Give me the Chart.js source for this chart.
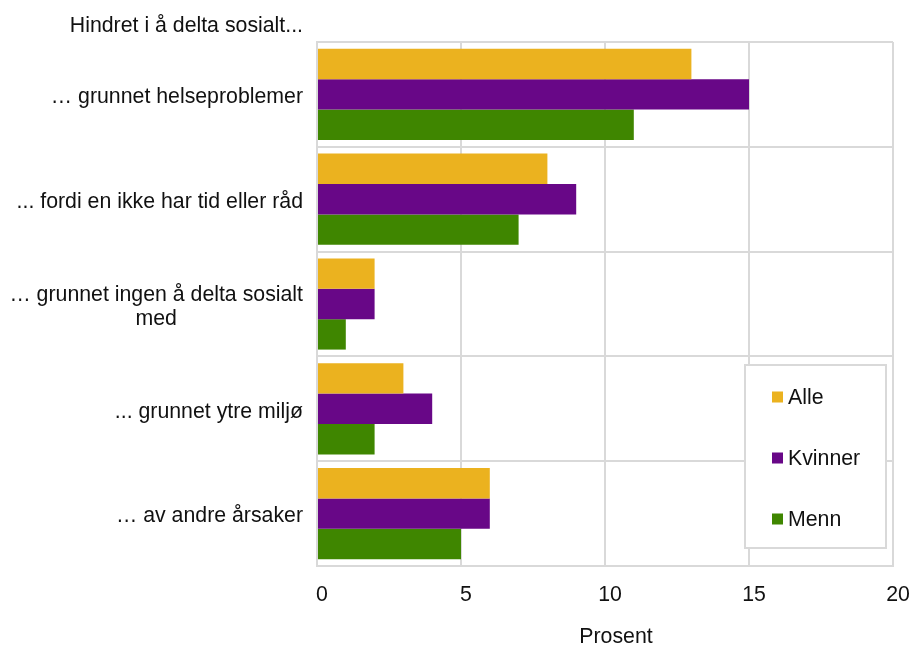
<!DOCTYPE html>
<html lang="no">
<head>
<meta charset="utf-8">
<title>Hindret i å delta sosialt</title>
<script src="https://cdn.jsdelivr.net/npm/chart.js@4.4.1/dist/chart.umd.min.js"></script>
<style>
  html, body { margin: 0; padding: 0; background: #fff; }
  #wrap { width: 914px; height: 647px; position: relative; }
</style>
</head>
<body>
<div id="wrap"><canvas id="hindretChart"></canvas></div>
<script>
const chartTitle = 'Hindret i å delta sosialt...';
const axisTitle = 'Prosent';
const categories = [
    ['… grunnet helseproblemer'],
    ['... fordi en ikke har tid eller råd'],
    ['… grunnet ingen å delta sosialt', 'med'],
    ['... grunnet ytre miljø'],
    ['… av andre årsaker']
];
const seriesNames = ['Alle', 'Kvinner', 'Menn'];
const alle = [13, 8, 2, 3, 6];
const kvinner = [15, 9, 2, 4, 6];
const menn = [11, 7, 1, 2, 5];
const xMin = 0;
const xMax = 20;
const xStep = 5;

const COLORS = ['#EBB21F', '#680787', '#3F8600'];
const GRID = '#D9D9D9';
const TEXT = '#111111';
const FONT = '"Liberation Sans", Arial, sans-serif';
const FONT_SIZE = 21.3;

Chart.defaults.font.family = FONT;
Chart.defaults.font.size = FONT_SIZE;
Chart.defaults.color = TEXT;

// category labels, title and axis title drawn by hand (multi-line labels are centred)
const textPlugin = {
    id: 'textPlugin',
    afterDraw(chart) {
        const ctx = chart.ctx;
        const yScale = chart.scales.y;
        const area = chart.chartArea;
        const lh = 24;
        ctx.save();
        ctx.font = `${FONT_SIZE}px ${FONT}`;
        ctx.fillStyle = TEXT;
        ctx.textBaseline = 'middle';

        const right = area.left - 14;
        categories.forEach((lines, i) => {
            const cy = yScale.getPixelForValue(i) + 3;
            const blockW = Math.max(...lines.map(l => ctx.measureText(l).width));
            ctx.textAlign = 'center';
            lines.forEach((line, j) => {
                const y = cy - (lines.length - 1) * lh / 2 + j * lh;
                ctx.fillText(line, right - blockW / 2, y);
            });
        });

        ctx.textAlign = 'right';
        ctx.fillText(chartTitle, right, 26);

        ctx.textAlign = 'center';
        ctx.fillText(axisTitle, (area.left + area.right) / 2 + 11, 637);
        ctx.restore();
    }
};

// boxed legend inside the plot area
const legendBox = {
    id: 'legendBox',
    afterDraw(chart) {
        const ctx = chart.ctx;
        const x = 745, y = 365, w = 141, h = 183;
        ctx.save();
        ctx.fillStyle = '#fff';
        ctx.fillRect(x, y, w, h);
        ctx.strokeStyle = GRID;
        ctx.lineWidth = 2;
        ctx.strokeRect(x, y, w, h);
        ctx.font = `${FONT_SIZE}px ${FONT}`;
        ctx.textBaseline = 'middle';
        ctx.textAlign = 'left';
        chart.data.datasets.forEach((ds, i) => {
            const cy = y + 32 + i * 61;
            ctx.fillStyle = ds.backgroundColor;
            ctx.fillRect(x + 27, cy - 5.5, 11, 11);
            ctx.fillStyle = TEXT;
            ctx.fillText(ds.label, x + 43, cy + 1);
        });
        ctx.restore();
    }
};

const ctx = document.getElementById('hindretChart').getContext('2d');
new Chart(ctx, {
    type: 'bar',
    data: {
        labels: categories.map(l => l.join(' ')),
        datasets: [
            { label: seriesNames[0], data: alle, backgroundColor: COLORS[0] },
            { label: seriesNames[1], data: kvinner, backgroundColor: COLORS[1] },
            { label: seriesNames[2], data: menn, backgroundColor: COLORS[2] }
        ]
    },
    options: {
        indexAxis: 'y',
        responsive: true,
        maintainAspectRatio: false,
        animation: false,
        datasets: { bar: { categoryPercentage: 0.87, barPercentage: 1.0 } },
        layout: { padding: { top: 42, right: 21, left: 0, bottom: 0 } },
        plugins: {
            legend: { display: false },
            tooltip: { enabled: false }
        },
        scales: {
            x: {
                min: xMin,
                max: xMax,
                ticks: { stepSize: xStep, padding: 16, labelOffset: 5, color: TEXT },
                grid: { color: GRID, lineWidth: 2, drawTicks: false },
                border: { color: GRID, width: 2 },
                afterFit: scale => {
                    scale.height = 81;
                    scale.paddingLeft = 0;
                    scale.paddingRight = 0;
                }
            },
            y: {
                ticks: { display: false },
                grid: { color: GRID, lineWidth: 2, drawTicks: false, offset: true },
                border: { color: GRID, width: 2 },
                afterFit: scale => { scale.width = 317; }
            }
        }
    },
    plugins: [textPlugin, legendBox]
});
</script>
</body>
</html>
